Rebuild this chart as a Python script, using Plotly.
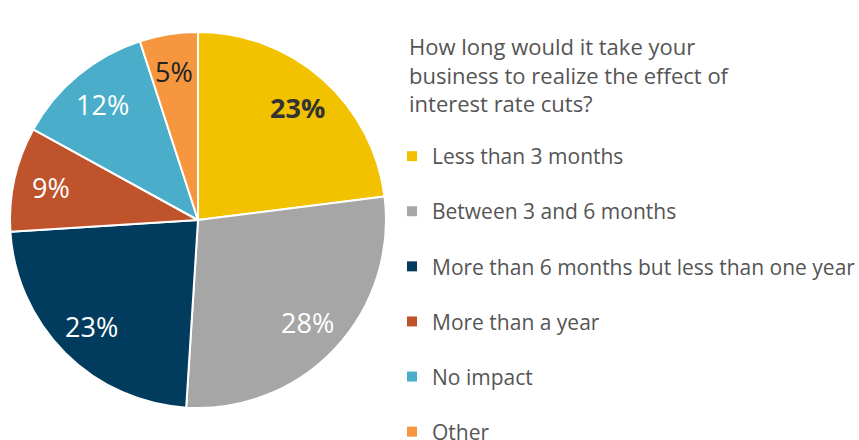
import math
import plotly.graph_objects as go

# Survey responses
categories = [
    "Less than 3 months",
    "Between 3 and 6 months",
    "More than 6 months but less than one year",
    "More than a year",
    "No impact",
    "Other",
]
shares = [23, 28, 23, 9, 12, 5]
colors = ["#F2C200", "#A6A6A6", "#013B5E", "#BE532C", "#4AADC9", "#F6963F"]
label_colors = ["#333333", "#FFFFFF", "#FFFFFF", "#FFFFFF", "#FFFFFF", "#222222"]
label_bold = [True, False, False, False, False, False]
question = "How long would it take your<br>business to realize the effect of<br>interest rate cuts?"

FONT = "Open Sans"
TEXT_GREY = "#555555"
W, H = 859, 440

# Pie placement (pixels)
PIE_LEFT, PIE_RIGHT, PIE_TOP, PIE_BOTTOM = 10, 386, 32, 408
cx = (PIE_LEFT + PIE_RIGHT) / 2
cy = (PIE_TOP + PIE_BOTTOM) / 2
radius = (PIE_RIGHT - PIE_LEFT) / 2
LABEL_RADIUS = 0.8  # fraction of the radius where the value labels sit

fig = go.Figure()

fig.add_trace(go.Pie(
    labels=categories,
    values=shares,
    sort=False,
    direction="clockwise",
    rotation=0,
    marker=dict(colors=colors, line=dict(color="white", width=2)),
    textinfo="none",
    domain=dict(x=[PIE_LEFT / W, PIE_RIGHT / W], y=[1 - PIE_BOTTOM / H, 1 - PIE_TOP / H]),
    showlegend=False,
    hoverinfo="label+percent",
))

# Value labels placed along each slice's bisector (clockwise from 12 o'clock)
total = sum(shares)
cum = 0
for val, col, bold in zip(shares, label_colors, label_bold):
    mid = (cum + val / 2) / total * 2 * math.pi
    cum += val
    px = cx + LABEL_RADIUS * radius * math.sin(mid)
    py = cy - LABEL_RADIUS * radius * math.cos(mid)
    txt = f"{val}%"
    fig.add_annotation(
        x=px / W, y=1 - py / H, xref="paper", yref="paper",
        text=f"<b>{txt}</b>" if bold else txt,
        showarrow=False, xanchor="center", yanchor="middle",
        font=dict(family=FONT, size=27, color=col),
    )

# Question heading above the legend
fig.add_annotation(
    x=407 / W, y=1 - 29 / H, xref="paper", yref="paper",
    text=question, showarrow=False, xanchor="left", yanchor="top", align="left",
    font=dict(family=FONT, size=22, color=TEXT_GREY),
)

# Legend entries: one group per category so the rows can be spaced apart
for name, col in zip(categories, colors):
    fig.add_trace(go.Scatter(
        x=[None], y=[None],
        mode="markers",
        marker=dict(symbol="square", size=10, color=col),
        name=name,
        legendgroup=name,
        showlegend=True,
    ))

fig.update_layout(
    width=W,
    height=H,
    margin=dict(l=0, r=0, t=0, b=0, autoexpand=False),
    paper_bgcolor="white",
    plot_bgcolor="white",
    xaxis=dict(visible=False),
    yaxis=dict(visible=False),
    legend=dict(
        x=392 / W, y=1 - 136 / H,
        xanchor="left", yanchor="top",
        font=dict(family=FONT, size=21, color=TEXT_GREY),
        tracegroupgap=24.8,
        itemwidth=30,
        maxheight=600,
        bgcolor="rgba(0,0,0,0)",
    ),
)

fig.write_html("out.html")
